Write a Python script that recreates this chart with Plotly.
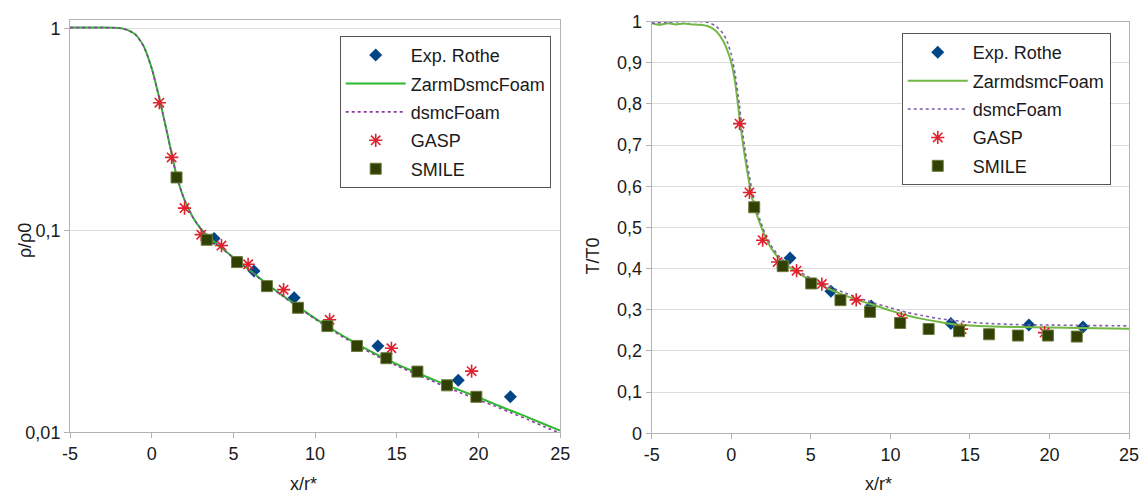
import plotly.graph_objects as go

# ---------------- Left: density ----------------
rho_rothe_x = [3.82, 6.26, 8.72, 13.84, 18.76, 21.95]
rho_rothe_y = [0.0912, 0.0630, 0.0464, 0.0268, 0.0181, 0.0150]

rho_zarm_x = [-5, -3, -2, -1.5, -1, -0.5, 0, 0.5, 1, 1.5, 2, 2.5, 3, 3.5, 4, 5, 6, 7, 8, 9, 10,
              11, 12, 13, 14, 15, 16, 17, 18, 19, 20, 21, 22, 23, 24, 25]
rho_zarm_y = [1.012, 1.012, 1.006, 0.985, 0.935, 0.82, 0.635, 0.44, 0.29, 0.19, 0.142, 0.117,
              0.102, 0.0925, 0.0855, 0.0735, 0.0635, 0.0548, 0.0477, 0.0417, 0.0367, 0.0326,
              0.0291, 0.0262, 0.0238, 0.0218, 0.0201, 0.0186, 0.0172, 0.0160, 0.0149, 0.0138,
              0.0128, 0.0119, 0.0110, 0.0102]

rho_dsmc_x = [-5, -3, -2, -1.5, -1, -0.5, 0, 0.5, 1, 1.5, 2, 2.5, 3, 3.5, 4, 5, 6, 7, 8, 9, 10,
              11, 12, 13, 14, 15, 16, 17, 18, 19, 20, 21, 22, 23, 24, 25]
rho_dsmc_y = [1.010, 1.010, 1.005, 0.984, 0.933, 0.818, 0.633, 0.439, 0.289, 0.19, 0.142, 0.117,
              0.102, 0.0923, 0.0853, 0.0732, 0.0632, 0.0545, 0.0474, 0.0414, 0.0364, 0.0322,
              0.0287, 0.0258, 0.0234, 0.0214, 0.0197, 0.0182, 0.0168, 0.0156, 0.0145, 0.0135,
              0.0125, 0.0116, 0.0107, 0.0099]

rho_gasp_x = [0.47, 1.22, 2.01, 3.03, 4.27, 5.90, 8.07, 10.89, 14.67, 19.58]
rho_gasp_y = [0.429, 0.230, 0.129, 0.0953, 0.0842, 0.0680, 0.0509, 0.0361, 0.0261, 0.0201]

rho_smile_x = [1.52, 3.37, 5.22, 7.05, 8.95, 10.75, 12.56, 14.36, 16.26, 18.07, 19.87]
rho_smile_y = [0.183, 0.0899, 0.0697, 0.0530, 0.0414, 0.0336, 0.0268, 0.0233, 0.0200, 0.0171, 0.0150]

# ---------------- Right: temperature ----------------
t_rothe_x = [3.69, 6.26, 8.79, 13.80, 18.70, 22.10]
t_rothe_y = [0.4255, 0.345, 0.309, 0.267, 0.263, 0.258]

t_zarm_x = [-5, -4.5, -4, -3.5, -3, -2.5, -2, -1.5, -1, -0.5, -0.25, 0, 0.25, 0.5, 0.75, 1, 1.25,
            1.5, 2, 2.5, 3, 3.5, 4, 5, 6, 7, 8, 9, 10, 11, 12, 13, 14, 15, 16, 18, 20, 22, 25]
t_zarm_y = [0.996, 0.992, 0.996, 0.993, 0.995, 0.993, 0.992, 0.989, 0.978, 0.952, 0.93, 0.90,
            0.85, 0.772, 0.698, 0.637, 0.582, 0.543, 0.490, 0.450, 0.425, 0.408, 0.394, 0.372,
            0.353, 0.337, 0.323, 0.311, 0.298, 0.287, 0.278, 0.271, 0.265, 0.262, 0.260, 0.258,
            0.257, 0.256, 0.254]

t_dsmc_x = [-5, -4, -3, -2, -1.5, -1, -0.5, -0.25, 0, 0.25, 0.5, 0.75, 1, 1.25, 1.5, 2, 2.5, 3,
            3.5, 4, 5, 6, 7, 8, 9, 10, 11, 12, 13, 14, 15, 16, 18, 20, 22, 25]
t_dsmc_y = [0.996, 0.998, 1.0, 1.0, 0.998, 0.99, 0.97, 0.95, 0.92, 0.87, 0.80, 0.72, 0.655, 0.60,
            0.555, 0.497, 0.456, 0.430, 0.413, 0.399, 0.377, 0.359, 0.343, 0.329, 0.316, 0.305,
            0.294, 0.286, 0.279, 0.274, 0.270, 0.267, 0.264, 0.263, 0.262, 0.261]

t_gasp_x = [0.52, 1.14, 1.97, 2.91, 4.10, 5.69, 7.85, 10.68, 14.47, 19.69]
t_gasp_y = [0.752, 0.585, 0.469, 0.416, 0.395, 0.3625, 0.324, 0.280, 0.253, 0.2446]

t_smile_x = [1.44, 3.23, 5.02, 6.86, 8.72, 10.61, 12.40, 14.31, 16.2, 18.01, 19.9, 21.71]
t_smile_y = [0.549, 0.406, 0.364, 0.3235, 0.295, 0.268, 0.2534, 0.248, 0.2406, 0.2375, 0.2375, 0.235]

x_tickvals = [-5, 0, 5, 10, 15, 20, 25]
x_ticktext = ["-5", "0", "5", "10", "15", "20", "25"]
rho_tickvals = [0.01, 0.1, 1]
rho_ticktext = ["0,01", "0,1", "1"]
t_tickvals = [0, 0.1, 0.2, 0.3, 0.4, 0.5, 0.6, 0.7, 0.8, 0.9, 1]
t_ticktext = ["0", "0,1", "0,2", "0,3", "0,4", "0,5", "0,6", "0,7", "0,8", "0,9", "1"]

names_left = ["Exp. Rothe", "ZarmDsmcFoam", "dsmcFoam", "GASP", "SMILE"]
names_right = ["Exp. Rothe", "ZarmdsmcFoam", "dsmcFoam", "GASP", "SMILE"]

W, H = 1147, 500
FONT = "Liberation Sans, Arial, sans-serif"
TXT = "#1a1a1a"
BLUE = "#004586"
RED = "#e0202e"
OLIVE = "#314004"

def px(x):
    return x / W

def py(y):
    return 1 - y / H

fig = go.Figure()

def add_set(xs, names, xa, ya, leg, green, purple, tag):
    (rx, ry), (zx, zy), (dx, dy), (gx, gy), (sx, sy) = xs
    fig.add_trace(go.Scatter(x=rx, y=ry, mode="markers", name=names[0], xaxis=xa, yaxis=ya, legend=leg,
                             legendgroup=tag + "a",
                             marker=dict(symbol="diamond", size=10, color=BLUE)))
    fig.add_trace(go.Scatter(x=zx, y=zy, mode="lines", name=names[1], xaxis=xa, yaxis=ya, legend=leg,
                             legendgroup=tag + "b",
                             line=dict(color=green, width=2, shape="spline", smoothing=0.6)))
    fig.add_trace(go.Scatter(x=dx, y=dy, mode="lines", name=names[2], xaxis=xa, yaxis=ya, legend=leg,
                             legendgroup=tag + "c",
                             line=dict(color=purple, width=1.6, dash="dot", shape="spline", smoothing=0.6)))
    fig.add_trace(go.Scatter(x=gx, y=gy, mode="markers", name=names[3], xaxis=xa, yaxis=ya, legend=leg,
                             legendgroup=tag + "d",
                             marker=dict(symbol="asterisk-open", size=11, color=RED,
                                         line=dict(color=RED, width=1.6))))
    fig.add_trace(go.Scatter(x=sx, y=sy, mode="markers", name=names[4], xaxis=xa, yaxis=ya, legend=leg,
                             legendgroup=tag + "e",
                             marker=dict(symbol="square", size=11, color=OLIVE,
                                         line=dict(color="#6b7a3a", width=1))))

add_set([(rho_rothe_x, rho_rothe_y), (rho_zarm_x, rho_zarm_y), (rho_dsmc_x, rho_dsmc_y),
         (rho_gasp_x, rho_gasp_y), (rho_smile_x, rho_smile_y)], names_left,
        "x", "y", "legend", "#2db82d", "#8a3f9e", "L")
add_set([(t_rothe_x, t_rothe_y), (t_zarm_x, t_zarm_y), (t_dsmc_x, t_dsmc_y),
         (t_gasp_x, t_gasp_y), (t_smile_x, t_smile_y)], names_right,
        "x2", "y2", "legend2", "#72b843", "#7d5fa9", "R")

axis_common = dict(showline=True, linecolor="#b3b3b3", linewidth=1, mirror=True,
                   ticks="outside", ticklen=5, tickcolor="#b3b3b3",
                   tickfont=dict(family=FONT, size=18, color=TXT), zeroline=False)

leg_common = dict(bordercolor="#555555", borderwidth=1, bgcolor="white",
                  font=dict(family=FONT, size=18, color=TXT),
                  xanchor="left", yanchor="top", tracegroupgap=2, itemwidth=60)

fig.update_layout(
    width=W, height=H, margin=dict(l=0, r=0, t=0, b=0),
    paper_bgcolor="white", plot_bgcolor="white", separators=",.",
    font=dict(family=FONT, size=18, color=TXT),
    xaxis=dict(domain=[px(63), px(561)], range=[-5, 25], tickvals=x_tickvals, ticktext=x_ticktext,
               showgrid=False, anchor="y", **axis_common),
    yaxis=dict(domain=[py(440), py(10)], type="log", range=[-2, 0.044], tickvals=rho_tickvals,
               ticktext=rho_ticktext, showgrid=True, gridcolor="#dddddd", anchor="x", **axis_common),
    xaxis2=dict(domain=[px(654), px(1139)], range=[-5, 25], tickvals=x_tickvals, ticktext=x_ticktext,
                showgrid=False, anchor="y2", **axis_common),
    yaxis2=dict(domain=[py(441), py(12)], range=[0, 1.0], tickvals=t_tickvals, ticktext=t_ticktext,
                showgrid=True, gridcolor="#dddddd", anchor="x2", **axis_common),
    legend=dict(x=px(337), y=py(27), **leg_common),
    legend2=dict(x=px(908), y=py(24), **leg_common),
    annotations=[
        dict(text="ρ/ρ0", x=px(18), y=py(240), xref="paper", yref="paper", showarrow=False,
             xanchor="center", yanchor="middle",
             textangle=-90, font=dict(family=FONT, size=18, color=TXT)),
        dict(text="x/r*", x=px(300), y=py(494), xref="paper", yref="paper", showarrow=False,
             xanchor="center", yanchor="middle",
             font=dict(family=FONT, size=18, color=TXT)),
        dict(text="T/T0", x=px(594), y=py(256), xref="paper", yref="paper", showarrow=False,
             xanchor="center", yanchor="middle",
             textangle=-90, font=dict(family=FONT, size=18, color=TXT)),
        dict(text="x/r*", x=px(884), y=py(494), xref="paper", yref="paper", showarrow=False,
             xanchor="center", yanchor="middle",
             font=dict(family=FONT, size=18, color=TXT)),
    ],
    showlegend=True,
)

fig.write_html("out.html")
